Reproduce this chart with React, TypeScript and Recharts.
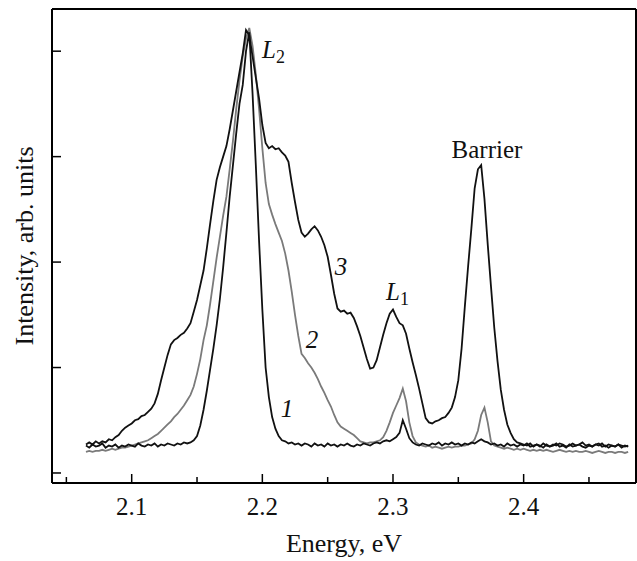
import { LineChart, Line, XAxis, YAxis, ReferenceLine } from 'recharts';

// energy grid of the spectra (eV)
const energyStart = 2.065;
const energyStep = 0.0025;

// spectrum 1 (black, narrowest L2)
const spectrum1 = [
  0.26, 0.24, 0.27, 0.25, 0.26, 0.28, 0.24, 0.26, 0.25, 0.27,
  0.24, 0.26, 0.25, 0.27, 0.26, 0.25, 0.28, 0.26, 0.25, 0.27,
  0.26, 0.28, 0.25, 0.27, 0.26, 0.28, 0.27, 0.26, 0.28, 0.27,
  0.29, 0.28, 0.29, 0.31, 0.35, 0.45, 0.6, 0.78, 0.98, 1.18,
  1.4, 1.65, 1.95, 2.28, 2.62, 2.92, 3.22, 3.5, 3.68, 4.0,
  4.18, 3.6, 2.92, 2.2, 1.55, 1.0, 0.72, 0.53, 0.42, 0.35,
  0.31, 0.3, 0.28, 0.29, 0.27, 0.28, 0.26, 0.28, 0.27, 0.25,
  0.28, 0.26, 0.27, 0.25, 0.28, 0.26, 0.27, 0.25, 0.27, 0.26,
  0.28, 0.26, 0.25, 0.27, 0.26, 0.28, 0.27, 0.26, 0.28, 0.29,
  0.28, 0.3, 0.31, 0.3, 0.32, 0.34, 0.38, 0.5, 0.42, 0.33,
  0.29, 0.27, 0.26, 0.28, 0.27, 0.26, 0.28, 0.27, 0.29, 0.26,
  0.28, 0.27, 0.29, 0.27, 0.28, 0.26, 0.28, 0.27, 0.29, 0.28,
  0.3, 0.32, 0.3, 0.29, 0.27, 0.28, 0.26, 0.27, 0.25, 0.28,
  0.26, 0.27, 0.25, 0.27, 0.26, 0.28, 0.25, 0.26, 0.27, 0.25,
  0.28, 0.26, 0.25, 0.27, 0.26, 0.28, 0.27, 0.25, 0.26, 0.28,
  0.26, 0.27, 0.29, 0.26, 0.27, 0.25, 0.27, 0.26, 0.28, 0.25,
  0.27, 0.26, 0.25, 0.27, 0.26, 0.25, 0.26,
];

// spectrum 2 (grey)
const spectrum2 = [
  0.2, 0.21, 0.2, 0.21, 0.21, 0.22, 0.21, 0.22, 0.23, 0.22,
  0.23, 0.24, 0.24, 0.25, 0.26, 0.27, 0.28, 0.29, 0.3, 0.31,
  0.33, 0.35, 0.37, 0.4, 0.43, 0.46, 0.49, 0.53, 0.56, 0.6,
  0.64, 0.69, 0.74, 0.82, 0.94, 1.08, 1.26, 1.4, 1.6, 1.82,
  2.04, 2.24, 2.44, 2.62, 2.88, 3.15, 3.45, 3.72, 3.95, 4.12,
  4.22, 4.05, 3.78, 3.45, 3.08, 2.75, 2.55, 2.45, 2.36, 2.28,
  2.2, 2.08, 1.92, 1.72, 1.5, 1.3, 1.13, 1.09, 1.04, 1.0,
  0.95, 0.89, 0.82, 0.76, 0.69, 0.63, 0.55, 0.48, 0.44, 0.42,
  0.4, 0.38, 0.36, 0.33, 0.3, 0.29, 0.28, 0.29, 0.29, 0.3,
  0.31, 0.34, 0.4, 0.48, 0.57, 0.64, 0.71, 0.8, 0.68, 0.48,
  0.35, 0.29, 0.27, 0.26, 0.25, 0.26, 0.24, 0.25, 0.24, 0.23,
  0.24, 0.25, 0.24, 0.25, 0.25, 0.26, 0.26, 0.27, 0.28, 0.32,
  0.4, 0.55, 0.62, 0.48, 0.3, 0.26, 0.25, 0.24, 0.23, 0.24,
  0.23, 0.22, 0.23, 0.22, 0.23, 0.22, 0.21, 0.22, 0.21, 0.22,
  0.21, 0.22, 0.21, 0.2, 0.21, 0.22, 0.21, 0.2, 0.21, 0.2,
  0.21, 0.2, 0.2, 0.21, 0.2, 0.19, 0.2, 0.21, 0.2, 0.19,
  0.2, 0.2, 0.19, 0.2, 0.2, 0.19, 0.2,
];

// spectrum 3 (black, broad with shoulders)
const spectrum3 = [
  0.27, 0.29, 0.27, 0.3, 0.28, 0.3, 0.29, 0.32, 0.31, 0.34,
  0.36, 0.4, 0.43, 0.45, 0.47, 0.5, 0.51, 0.54, 0.55, 0.58,
  0.61, 0.66, 0.75, 0.88, 1.0, 1.12, 1.22, 1.26, 1.28, 1.31,
  1.33, 1.37, 1.42, 1.53, 1.64, 1.78, 1.92, 2.13, 2.36, 2.58,
  2.78, 2.9, 3.0, 3.1, 3.26, 3.44, 3.62, 3.8, 3.98, 4.2,
  4.15, 3.95, 3.75, 3.55, 3.3, 3.13, 3.08, 3.1, 3.07, 3.08,
  3.04, 3.01, 2.95, 2.75, 2.57, 2.4, 2.28, 2.24, 2.27, 2.31,
  2.34, 2.3, 2.24, 2.16, 2.05, 1.88, 1.7, 1.56, 1.53, 1.54,
  1.51, 1.52, 1.47, 1.39, 1.3, 1.19, 1.08, 0.99, 1.0, 1.07,
  1.19, 1.31, 1.42, 1.51, 1.55, 1.48, 1.42, 1.4, 1.32, 1.18,
  1.05, 0.93, 0.8, 0.66, 0.52, 0.48, 0.47, 0.49, 0.5, 0.52,
  0.53, 0.57, 0.62, 0.72, 0.88, 1.18, 1.58, 1.96, 2.32, 2.7,
  2.88, 2.92, 2.6, 2.17, 1.77, 1.38, 1.06, 0.79, 0.6, 0.46,
  0.38, 0.32, 0.29, 0.28, 0.27, 0.26, 0.28, 0.25, 0.27, 0.26,
  0.24, 0.27, 0.25, 0.26, 0.28, 0.25, 0.26, 0.24, 0.27, 0.25,
  0.26, 0.27, 0.25, 0.24, 0.26, 0.25, 0.27, 0.28, 0.25, 0.26,
  0.24, 0.26, 0.25, 0.27, 0.24, 0.26, 0.25,
];

const xTicks = [2.05, 2.1, 2.15, 2.2, 2.25, 2.3, 2.35, 2.4, 2.45];
const yTicks = [0, 1, 2, 3, 4];

const data = spectrum1.map((v, i) => ({
  energy: +(energyStart + i * energyStep).toFixed(4),
  s1: v,
  s2: spectrum2[i],
  s3: spectrum3[i],
}));

const FONT = '"Liberation Serif", "Times New Roman", serif';

const XTick = (props: any) => {
  const { x, y, payload } = props;
  const major = Math.abs(payload.value * 10 - Math.round(payload.value * 10)) < 1e-6;
  return (
    <g>
      <line x1={x} x2={x} y1={y} y2={y - (major ? 9 : 6)} stroke="#000" strokeWidth={1.5} />
      {major && (
        <text x={x} y={y + 32} textAnchor="middle" fontSize={25} fontFamily={FONT} fill="#111">
          {payload.value.toFixed(1)}
        </text>
      )}
    </g>
  );
};

const YTick = (props: any) => {
  const { x, y } = props;
  return <line x1={x} x2={x + 9} y1={y} y2={y} stroke="#000" strokeWidth={1.5} />;
};

export default function App() {
  return (
    <div style={{ position: 'absolute', left: 0, top: 0, width: 637, height: 561, background: '#fff' }}>
      <LineChart width={637} height={561} data={data} margin={{ top: 9, right: 1, bottom: 0, left: 0 }}>
        <XAxis
          dataKey="energy"
          type="number"
          domain={[2.039, 2.486]}
          allowDataOverflow
          ticks={xTicks}
          interval={0}
          height={78}
          tickLine={false}
          tickSize={0}
          tickMargin={0}
          axisLine={{ stroke: '#000', strokeWidth: 2 }}
          tick={<XTick />}
        />
        <YAxis
          type="number"
          domain={[-0.095, 4.4]}
          allowDataOverflow
          ticks={yTicks}
          interval={0}
          width={52}
          tickLine={false}
          tickSize={0}
          tickMargin={0}
          axisLine={{ stroke: '#000', strokeWidth: 2 }}
          tick={<YTick />}
        />
        <ReferenceLine y={4.4} stroke="#000" strokeWidth={2} />
        <ReferenceLine x={2.486} stroke="#000" strokeWidth={2} />
        <Line type="linear" dataKey="s2" stroke="#7a7a7a" strokeWidth={1.8} dot={false} isAnimationActive={false} />
        <Line type="linear" dataKey="s3" stroke="#111" strokeWidth={1.8} dot={false} isAnimationActive={false} />
        <Line type="linear" dataKey="s1" stroke="#111" strokeWidth={1.8} dot={false} isAnimationActive={false} />
      </LineChart>
      <svg
        width={637}
        height={561}
        style={{ position: 'absolute', left: 0, top: 0, pointerEvents: 'none' }}
        fontFamily={FONT}
        fill="#111"
      >
        <text transform="rotate(-90)" x={-246} y={33} textAnchor="middle" fontSize={26}>
          Intensity, arb. units
        </text>
        <text x={344} y={552} textAnchor="middle" fontSize={26}>
          Energy, eV
        </text>
        <text x={262} y={58} fontSize={25} fontStyle="italic">
          L<tspan fontStyle="normal" fontSize={18} dy={5}>2</tspan>
        </text>
        <text x={386} y={300} fontSize={25} fontStyle="italic">
          L<tspan fontStyle="normal" fontSize={18} dy={5}>1</tspan>
        </text>
        <text x={487} y={158} textAnchor="middle" fontSize={25}>
          Barrier
        </text>
        <text x={341} y={275} textAnchor="middle" fontSize={25} fontStyle="italic">
          3
        </text>
        <text x={312} y={348} textAnchor="middle" fontSize={25} fontStyle="italic">
          2
        </text>
        <text x={287} y={417} textAnchor="middle" fontSize={25} fontStyle="italic">
          1
        </text>
      </svg>
    </div>
  );
}
